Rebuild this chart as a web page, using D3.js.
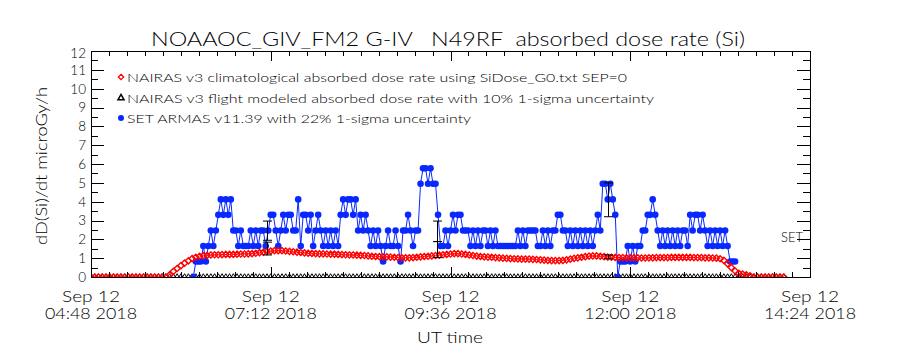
<!DOCTYPE html>
<html>
<head>
<meta charset="utf-8">
<script src="https://d3js.org/d3.v7.min.js"></script>
<style>
  body { margin: 0; background: #fff; }
  svg { display: block; font-family: Lato, 'Open Sans', 'DejaVu Sans', sans-serif; font-weight: 300; }
</style>
</head>
<body>
<div id="chart"></div>
<script>
// ---- data ----
const xTicks = ['04:48', '07:12', '09:36', '12:00', '14:24']
const xTickDay = 'Sep 12'
const xTickYear = '2018'
const yTicks = [0, 1, 2, 3, 4, 5, 6, 7, 8, 9, 10, 11, 12]

// NAIRAS v3 climatological (red), one value every 3 minutes from 04:48
const nairasStart = '04:48'
const nairasStep = 3
const nairasClimo = [
  0, 0, 0, 0, 0, 0, 0, 0, 0, 0, 0, 0, 0, 0, 0, 0, 0, 0, 0, 0, 0,
  0.12, 0.3, 0.45, 0.6, 0.74, 0.86, 0.98, 1.05, 1.1,
  1.13, 1.15, 1.17, 1.18, 1.18, 1.19, 1.2, 1.2, 1.2, 1.21,
  1.22, 1.22, 1.23, 1.24, 1.26, 1.29, 1.32, 1.35, 1.38, 1.4,
  1.4, 1.4, 1.38, 1.36, 1.34, 1.32, 1.3, 1.28, 1.26, 1.25,
  1.24, 1.23, 1.23, 1.22, 1.21, 1.21, 1.2, 1.19, 1.18, 1.17,
  1.17, 1.16, 1.15, 1.14, 1.12, 1.1, 1.09, 1.08, 1.07, 1.07,
  1.06, 1.05, 1.03, 1.02, 1.02, 1.02, 1.03, 1.05, 1.07, 1.09,
  1.1, 1.12, 1.14, 1.16, 1.18, 1.2, 1.22, 1.24, 1.24, 1.22,
  1.2, 1.17, 1.14, 1.11, 1.09, 1.07, 1.06, 1.05, 1.03, 1.02,
  1.0, 0.99, 0.98, 0.97, 0.96, 0.95, 0.95, 0.95, 0.94, 0.93,
  0.91, 0.9, 0.88, 0.87, 0.87, 0.87, 0.88, 0.91, 0.95, 0.99,
  1.02, 1.05, 1.08, 1.11, 1.12, 1.12, 1.1, 1.08, 1.06, 1.05,
  1.04, 1.03, 1.03, 1.02, 1.02, 1.02, 1.02, 1.01, 1.01, 1.02,
  1.02, 1.03, 1.03, 1.03, 1.03, 1.04, 1.04, 1.04, 1.04, 1.04,
  1.04, 1.03, 1.03, 1.03, 1.02, 1.02, 1.01, 1.0, 0.97, 0.88,
  0.7, 0.5, 0.32, 0.2, 0.16, 0.12, 0.06, 0, 0, 0,
  0, 0, 0, 0, 0, 0
]

// NAIRAS v3 flight modeled (black), same times
const nairasFlight = [
  0, 0, 0, 0, 0, 0, 0, 0, 0, 0, 0, 0, 0, 0, 0, 0, 0, 0, 0, 0, 0,
  0, 0, 0, 0, 0, 0, 0, 0, 0, 0, 0, 0, 0, 0, 0, 0, 0, 0, 0,
  0, 0, 0, 0, 0, 0, 0, 0, 0, 0, 0, 0, 0, 0, 0, 0, 0, 0, 0, 0,
  0, 0, 0, 0, 0, 0, 0, 0, 0, 0, 0, 0, 0, 0, 0, 0, 0, 0, 0, 0,
  0, 0, 0, 0, 0, 0, 0, 0, 0, 0, 0, 0, 0, 0, 0, 0, 0, 0, 0, 0,
  0, 0, 0, 0, 0, 0, 0, 0, 0, 0, 0, 0, 0, 0, 0, 0, 0, 0, 0, 0,
  0, 0, 0, 0, 0, 0, 0, 0, 0, 0, 0, 0, 0, 0, 0, 0, 0, 0, 0, 0,
  0, 0, 0, 0, 0, 0, 0, 0, 0, 0, 0, 0, 0, 0, 0, 0, 0, 0, 0, 0,
  0, 0, 0, 0, 0, 0, 0, 0, 0, 0, 0, 0, 0, 0, 0, 0, 0, 0, 0, 0,
  0, 0, 0, 0, 0, 0
]

// SET ARMAS v11.39 (blue), one value every 2 minutes from 06:10
const armasStart = '06:10'
const armasStep = 2
const armasDose = [
  0, 0.82, 0.82, 0.82, 1.65, 0.82, 1.65, 2.47, 1.65, 2.47,
  3.3, 4.12, 3.3, 4.12, 3.3, 4.12, 2.47, 2.47, 1.65, 2.47,
  1.65, 1.65, 1.65, 2.47, 1.65, 2.47, 1.65, 2.47, 2.47, 1.65,
  2.47, 3.3, 3.3, 2.47, 1.65, 2.47, 3.3, 2.47, 3.3, 3.3,
  2.47, 2.47, 4.12, 1.65, 3.3, 3.3, 2.47, 3.3, 1.65, 2.47,
  3.3, 2.47, 1.65, 2.47, 1.65, 2.47, 1.65, 2.47, 1.65, 3.3,
  4.12, 3.3, 4.12, 4.12, 3.3, 4.12, 2.47, 3.3, 2.47, 3.3,
  2.47, 1.65, 2.47, 1.65, 2.47, 1.65, 0.82, 1.65, 2.47, 1.65,
  1.65, 2.47, 1.65, 0.82, 2.47, 2.47, 3.3, 2.47, 1.65, 2.47,
  2.47, 4.95, 5.77, 5.77, 4.95, 5.77, 4.95, 4.95, 3.3, 1.65,
  1.65, 2.47, 1.65, 2.47, 3.3, 2.47, 3.3, 3.3, 2.47, 2.47,
  2.47, 1.65, 2.47, 1.65, 2.47, 1.65, 2.47, 2.47, 1.65, 2.47,
  1.65, 2.47, 1.65, 1.65, 1.65, 1.65, 1.65, 1.65, 1.65, 1.65,
  2.47, 1.65, 2.47, 1.65, 2.47, 2.47, 2.47, 2.47, 1.65, 1.65,
  2.47, 1.65, 2.47, 1.65, 2.47, 2.47, 3.3, 3.3, 2.47, 2.47,
  1.65, 2.47, 1.65, 2.47, 1.65, 2.47, 1.65, 2.47, 1.65, 2.47,
  1.65, 2.47, 3.3, 2.47, 4.95, 4.95, 4.12, 4.95, 4.12, 3.3,
  0, 0.82, 0.82, 0.82, 1.65, 0.82, 1.65, 0.82, 1.65, 1.65,
  2.47, 2.47, 3.3, 3.3, 4.12, 3.3, 2.47, 1.65, 2.47, 1.65,
  2.47, 1.65, 2.47, 1.65, 2.47, 1.65, 2.47, 2.47, 1.65, 3.3,
  2.47, 3.3, 3.3, 2.47, 3.3, 2.47, 1.65, 2.47, 1.65, 2.47,
  1.65, 2.47, 1.65, 2.47, 1.65, 0.82, 0.82, 0.82
]

// 1-sigma error bars
const errTimes = ['07:09', '07:09', '09:25', '09:25', '11:42', '11:42']
const errLo = [1.95, 1.17, 1.88, 1.03, 3.2, 0.97]
const errHi = [2.97, 1.85, 2.97, 1.88, 5.0, 1.17]

const legendLabels = [
  'NAIRAS v3 climatological absorbed dose rate using SiDose_G0.txt SEP=0',
  'NAIRAS v3 flight modeled absorbed dose rate with 10% 1-sigma uncertainty',
  'SET ARMAS v11.39 with 22% 1-sigma uncertainty'
]

// ---- layout ----
const width = 900
const height = 350
const plot = { left: 91, right: 810, top: 51, bottom: 277 }
const red = '#ff0000'
const blue = '#0828ff'

const parseTime = d3.utcParse('%Y-%m-%d %H:%M')
const t = s => parseTime('2018-09-12 ' + s)

const x = d3.scaleUtc()
  .domain([t(xTicks[0]), t(xTicks[xTicks.length - 1])])
  .range([plot.left, plot.right])

const y = d3.scaleLinear()
  .domain([0, 12])
  .range([plot.bottom, plot.top])

const svg = d3.select('#chart')
  .append('svg')
  .attr('width', width)
  .attr('height', height)

svg.append('defs').append('clipPath').attr('id', 'plotclip')
  .append('rect')
  .attr('x', plot.left).attr('y', plot.top)
  .attr('width', plot.right - plot.left).attr('height', plot.bottom - plot.top)

const nairasPts = nairasClimo.map((v, i) => ({ time: d3.utcMinute.offset(t(nairasStart), i * nairasStep), v: v }))
const flightPts = nairasFlight.map((v, i) => ({ time: d3.utcMinute.offset(t(nairasStart), i * nairasStep), v: v }))
const armasPts = armasDose.map((v, i) => ({ time: d3.utcMinute.offset(t(armasStart), i * armasStep), v: v }))

const data = svg.append('g').attr('clip-path', 'url(#plotclip)')

// black triangles (flight model)
data.selectAll('.flight')
  .data(flightPts)
  .enter()
  .append('path')
  .attr('class', 'flight')
  .attr('d', d3.symbol(d3.symbolTriangle, 14))
  .attr('transform', d => 'translate(' + x(d.time) + ',' + y(d.v) + ')')
  .attr('fill', 'none')
  .attr('stroke', '#000')
  .attr('stroke-width', 1)

// blue line + dots
data.append('path')
  .datum(armasPts)
  .attr('d', d3.line().x(d => x(d.time)).y(d => y(d.v)))
  .attr('fill', 'none')
  .attr('stroke', blue)
  .attr('stroke-width', 1)

data.selectAll('.armas')
  .data(armasPts)
  .enter()
  .append('circle')
  .attr('class', 'armas')
  .attr('cx', d => x(d.time))
  .attr('cy', d => y(d.v))
  .attr('r', 3.3)
  .attr('fill', blue)

// red open diamonds
const diamond = s => 'M0,' + (-s) + 'L' + s + ',0L0,' + s + 'L' + (-s) + ',0Z'
data.selectAll('.climo')
  .data(nairasPts)
  .enter()
  .append('path')
  .attr('class', 'climo')
  .attr('d', diamond(3.1))
  .attr('transform', d => 'translate(' + x(d.time) + ',' + y(d.v) + ')')
  .attr('fill', 'none')
  .attr('stroke', red)
  .attr('stroke-width', 1.4)

// error bars
errTimes.forEach((tm, i) => {
  const ex = Math.round(x(t(tm))) + 0.5
  const g = svg.append('g').attr('stroke', '#000').attr('stroke-width', 1)
  g.append('line').attr('x1', ex).attr('x2', ex).attr('y1', y(errLo[i])).attr('y2', y(errHi[i]))
  g.append('line').attr('x1', ex - 4.5).attr('x2', ex + 4.5).attr('y1', y(errLo[i])).attr('y2', y(errLo[i]))
  g.append('line').attr('x1', ex - 4.5).attr('x2', ex + 4.5).attr('y1', y(errHi[i])).attr('y2', y(errHi[i]))
})

// ---- axes ----
const minorX = d3.range(x.domain()[0].getTime(), x.domain()[1].getTime() + 1, 864000).map(ms => new Date(ms))
const majorX = xTicks.map(t)
const minorY = d3.range(0.5, 12, 1)

function drawAxis(axisFn, scale, values, size, transform) {
  svg.append('g')
    .attr('transform', transform)
    .attr('shape-rendering', 'crispEdges')
    .call(axisFn(scale).tickValues(values).tickSize(size).tickSizeOuter(0).tickFormat(''))
    .call(g => g.selectAll('path, line').attr('stroke', '#000'))
}

drawAxis(d3.axisBottom, x, minorX, -5, 'translate(0,' + plot.bottom + ')')
drawAxis(d3.axisBottom, x, majorX, -10, 'translate(0,' + plot.bottom + ')')
drawAxis(d3.axisTop, x, minorX, -5, 'translate(0,' + plot.top + ')')
drawAxis(d3.axisTop, x, majorX, -10, 'translate(0,' + plot.top + ')')
drawAxis(d3.axisLeft, y, minorY, -7, 'translate(' + plot.left + ',0)')
drawAxis(d3.axisLeft, y, yTicks, -13, 'translate(' + plot.left + ',0)')
drawAxis(d3.axisRight, y, minorY, -7, 'translate(' + plot.right + ',0)')
drawAxis(d3.axisRight, y, yTicks, -13, 'translate(' + plot.right + ',0)')

// y tick labels
svg.selectAll('.ylab')
  .data(yTicks)
  .enter()
  .append('text')
  .attr('class', 'ylab')
  .attr('x', 86)
  .attr('y', d => y(d) + (d === 12 ? 2 : 0))
  .attr('dy', '0.36em')
  .attr('text-anchor', 'end')
  .attr('font-size', '13.5px')
  .text(d => d)

// x tick labels (two lines)
svg.selectAll('.xday')
  .data(xTicks)
  .enter()
  .append('text')
  .attr('x', d => x(t(d)))
  .attr('y', 302)
  .attr('text-anchor', 'middle')
  .attr('font-size', '15px')
  .attr('textLength', 58)
  .attr('lengthAdjust', 'spacingAndGlyphs')
  .text(xTickDay)

svg.selectAll('.xtime')
  .data(xTicks)
  .enter()
  .append('text')
  .attr('x', d => x(t(d)))
  .attr('y', 319)
  .attr('text-anchor', 'middle')
  .attr('font-size', '15px')
  .attr('textLength', 92)
  .attr('lengthAdjust', 'spacingAndGlyphs')
  .text(d => d + ' ' + xTickYear)

svg.append('text')
  .attr('x', 450).attr('y', 343)
  .attr('text-anchor', 'middle')
  .attr('font-size', '15px')
  .attr('textLength', 66)
  .attr('lengthAdjust', 'spacingAndGlyphs')
  .text('UT time')

svg.append('text')
  .attr('transform', 'translate(47,166) rotate(-90)')
  .attr('text-anchor', 'middle')
  .attr('font-size', '15px')
  .attr('textLength', 158)
  .attr('lengthAdjust', 'spacingAndGlyphs')
  .text('dD(Si)/dt microGy/h')

// title
svg.append('text')
  .attr('x', 448).attr('y', 46)
  .attr('text-anchor', 'middle')
  .attr('font-size', '19px')
  .attr('textLength', 594)
  .attr('lengthAdjust', 'spacingAndGlyphs')
  .style('white-space', 'pre')
  .text('NOAAOC_GIV_FM2 G-IV   N49RF  absorbed dose rate (Si)')

// legend
const legendY = [77, 98, 118]
const legendLen = [500, 527, 344]
legendLabels.forEach((lab, i) => {
  svg.append('text')
    .attr('x', 127).attr('y', legendY[i] + 4.5)
    .attr('font-size', '12.5px')
    .attr('textLength', legendLen[i])
    .attr('lengthAdjust', 'spacingAndGlyphs')
    .text(lab)
})
svg.append('path').attr('d', diamond(2.7)).attr('transform', 'translate(121,' + legendY[0] + ')')
  .attr('fill', '#fff').attr('stroke', red).attr('stroke-width', 1.3)
svg.append('path').attr('d', d3.symbol(d3.symbolTriangle, 16)).attr('transform', 'translate(121,' + legendY[1] + ')')
  .attr('fill', 'none').attr('stroke', '#000').attr('stroke-width', 1.5)
svg.append('circle').attr('cx', 121).attr('cy', legendY[2]).attr('r', 3).attr('fill', blue)

svg.append('text')
  .attr('x', 781).attr('y', y(2.1) + 5)
  .attr('font-size', '13px')
  .text('SET')
</script>
</body>
</html>
